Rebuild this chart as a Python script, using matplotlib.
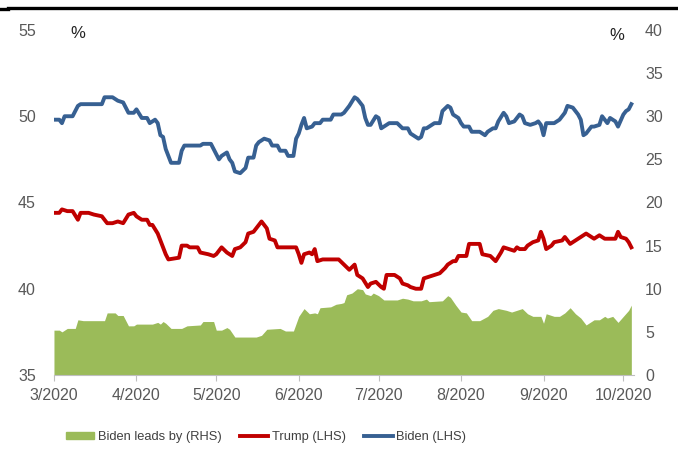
import pandas as pd
import matplotlib.pyplot as plt
from matplotlib.lines import Line2D
from matplotlib.patches import Patch

plt.rcParams["font.family"] = ["Liberation Sans", "DejaVu Sans"]

# days since 1 March 2020
biden_days = [0, 2, 3, 4, 7, 9, 10, 18, 19, 22, 24, 26, 28, 30, 31, 33, 35, 36, 38, 39,
              40, 41, 42, 44, 47, 48, 49, 55, 56, 59, 60, 62, 63, 65, 66, 67, 68, 70, 72, 73,
              75, 76, 77, 79, 81, 82, 84, 85, 87, 88, 90, 91, 92, 93, 94, 95, 97, 98, 100, 101,
              104, 105, 108, 109, 111, 113, 114, 116, 117, 118, 119, 121, 122, 123, 125, 126, 129, 131, 133, 134,
              135, 137, 138, 139, 140, 141, 143, 145, 146, 148, 149, 150, 152, 153, 154, 156, 157, 160, 162, 163,
              165, 166, 167, 169, 170, 171, 173, 175, 176, 177, 179, 181, 182, 183, 184, 185, 188, 190, 192, 193,
              195, 197, 198, 199, 200, 202, 203, 205, 206, 208, 209, 211, 212, 214, 215, 216, 217]
biden = [49.8, 49.8, 49.6, 50.0, 50.0, 50.6, 50.7, 50.7, 51.1, 51.1, 50.9, 50.8, 50.2, 50.2, 50.4, 49.9, 49.9, 49.6, 49.8, 49.6,
         48.9, 48.8, 48.1, 47.3, 47.3, 48.0, 48.3, 48.3, 48.4, 48.4, 48.1, 47.5, 47.7, 47.9, 47.5, 47.3, 46.8, 46.7, 47.0, 47.6,
         47.6, 48.3, 48.5, 48.7, 48.6, 48.3, 48.3, 48.0, 48.0, 47.7, 47.7, 48.7, 49.0, 49.5, 49.9, 49.3, 49.4, 49.6, 49.6, 49.8,
         49.8, 50.1, 50.1, 50.2, 50.6, 51.1, 51.0, 50.6, 49.9, 49.5, 49.5, 50.0, 49.9, 49.3, 49.5, 49.6, 49.6, 49.3, 49.3, 49.0,
         48.9, 48.7, 48.8, 49.3, 49.3, 49.4, 49.6, 49.6, 50.3, 50.6, 50.5, 50.1, 49.9, 49.6, 49.4, 49.4, 49.1, 49.1, 48.9, 49.1,
         49.3, 49.3, 49.7, 50.2, 50.0, 49.6, 49.7, 50.1, 50.0, 49.6, 49.5, 49.6, 49.7, 49.5, 48.9, 49.6, 49.6, 49.8, 50.2, 50.6,
         50.5, 50.1, 49.8, 48.9, 49.0, 49.4, 49.4, 49.5, 50.0, 49.6, 49.9, 49.7, 49.4, 50.1, 50.3, 50.4, 50.7]

trump_days = [0, 2, 3, 5, 7, 9, 10, 13, 15, 18, 20, 22, 24, 26, 28, 30, 31, 33, 35, 36,
              37, 39, 41, 42, 43, 47, 48, 50, 51, 54, 55, 58, 60, 61, 63, 65, 67, 68, 70, 72,
              73, 75, 77, 78, 80, 81, 83, 84, 91, 92, 93, 94, 96, 97, 98, 99, 101, 107, 109, 111,
              113, 114, 116, 118, 119, 121, 123, 124, 125, 128, 130, 131, 133, 134, 136, 138, 139, 141, 143, 145,
              147, 148, 150, 151, 152, 155, 156, 159, 160, 161, 164, 166, 168, 169, 171, 173, 174, 175, 177, 178,
              180, 182, 183, 184, 185, 187, 188, 191, 192, 194, 195, 197, 200, 202, 203, 205, 207, 209, 211, 212,
              213, 215, 216, 217]
trump = [44.4, 44.4, 44.6, 44.5, 44.5, 44.0, 44.4, 44.4, 44.3, 44.2, 43.8, 43.8, 43.9, 43.8, 44.3, 44.4, 44.2, 44.0, 44.0, 43.7,
         43.7, 43.2, 42.4, 42.0, 41.7, 41.8, 42.5, 42.5, 42.4, 42.4, 42.1, 42.0, 41.9, 42.0, 42.4, 42.1, 41.9, 42.3, 42.4, 42.7,
         43.2, 43.3, 43.7, 43.9, 43.5, 42.9, 42.8, 42.4, 42.4, 42.0, 41.5, 42.0, 42.1, 42.0, 42.3, 41.6, 41.7, 41.7, 41.4, 41.1,
         41.4, 40.8, 40.6, 40.1, 40.3, 40.4, 40.1, 40.0, 40.8, 40.8, 40.6, 40.3, 40.2, 40.1, 40.0, 40.0, 40.6, 40.7, 40.8, 40.9,
         41.2, 41.4, 41.6, 41.6, 41.9, 41.9, 42.6, 42.6, 42.6, 42.0, 41.9, 41.6, 42.1, 42.4, 42.3, 42.2, 42.4, 42.3, 42.3, 42.5,
         42.7, 42.8, 43.3, 42.9, 42.3, 42.5, 42.7, 42.8, 43.0, 42.6, 42.7, 42.9, 43.2, 43.0, 42.9, 43.1, 42.9, 42.9, 42.9, 43.3,
         43.0, 42.9, 42.7, 42.4]

lead_days = [0, 2, 3, 5, 8, 9, 11, 14, 15, 19, 20, 23, 24, 26, 28, 30, 31, 37, 39, 40,
             41, 42, 44, 48, 50, 55, 56, 60, 61, 63, 65, 66, 68, 72, 76, 78, 80, 85, 87, 90,
             92, 94, 96, 98, 99, 100, 104, 106, 108, 109, 110, 112, 114, 116, 117, 119, 120, 122, 124, 129,
             131, 133, 135, 138, 140, 141, 146, 148, 149, 151, 153, 155, 157, 160, 163, 165, 167, 170, 172, 175,
             176, 178, 180, 183, 184, 185, 188, 190, 192, 194, 196, 198, 200, 202, 203, 205, 207, 208, 210, 212,
             214, 216, 217]
lead = [5.2, 5.2, 5.0, 5.4, 5.4, 6.4, 6.3, 6.3, 6.3, 6.3, 7.2, 7.2, 6.9, 6.9, 5.7, 5.7, 5.9, 5.9, 6.1, 5.9,
        6.2, 6.0, 5.4, 5.4, 5.7, 5.8, 6.2, 6.2, 5.2, 5.2, 5.5, 5.3, 4.4, 4.4, 4.4, 4.6, 5.3, 5.4, 5.1, 5.1,
        6.8, 7.7, 7.1, 7.2, 7.1, 7.8, 7.9, 8.2, 8.3, 8.4, 9.3, 9.5, 10.0, 9.9, 9.4, 9.2, 9.5, 9.2, 8.7, 8.7,
        8.9, 8.8, 8.6, 8.6, 8.8, 8.5, 8.6, 9.2, 9.0, 8.1, 7.3, 7.2, 6.3, 6.3, 6.8, 7.5, 7.7, 7.5, 7.3, 7.6,
        7.7, 7.1, 6.8, 6.8, 6.0, 7.1, 6.8, 6.8, 7.2, 7.8, 7.1, 6.6, 5.8, 6.2, 6.4, 6.4, 6.8, 6.6, 6.8, 6.1,
        6.8, 7.5, 8.1]

start = pd.Timestamp("2020-03-01")


def to_dates(days):
    return start + pd.to_timedelta(days, unit="D")


grey = "#595959"
fig = plt.figure(figsize=(6.78, 4.62), dpi=100)
ax = fig.add_axes([0.0796, 0.1883, 0.8555, 0.7468])
ax2 = ax.twinx()

# green area on the right-hand scale, drawn underneath the lines
ax.fill_between(to_dates(lead_days), 0, lead, color="#9BBB59", linewidth=0)
ax.set_ylim(0, 40)
ax.set_yticks(range(0, 41, 5))
ax.yaxis.tick_right()

ax2.plot(to_dates(trump_days), trump, color="#C00000", lw=2.8, solid_joinstyle="round")
ax2.plot(to_dates(biden_days), biden, color="#376092", lw=2.8, solid_joinstyle="round")
ax2.set_ylim(35, 55)
ax2.set_yticks(range(35, 56, 5))
ax2.yaxis.tick_left()

months = pd.date_range("2020-03-01", "2020-10-01", freq="MS")
ax.set_xlim(start, start + pd.Timedelta(days=218))
ax.set_xticks(months)
ax.set_xticklabels([f"{m.month}/{m.year}" for m in months])

for a in (ax, ax2):
    for s in a.spines.values():
        s.set_visible(False)
    a.tick_params(axis="y", length=0, labelsize=11.5, labelcolor=grey)
ax.tick_params(axis="y", pad=8)
ax2.tick_params(axis="y", pad=13)
ax.spines["bottom"].set_visible(True)
ax.spines["bottom"].set_color("#bfbfbf")
ax.tick_params(axis="x", length=4, color="#bfbfbf", labelsize=11.5, labelcolor=grey, pad=5)

fig.text(78 / 678, 1 - 33 / 462, "%", fontsize=12, ha="center", va="center", color="#222222")
fig.text(617 / 678, 1 - 35 / 462, "%", fontsize=12, ha="center", va="center", color="#222222")

# heavy rule at the top
fig.add_artist(Line2D([0.012, 1], [1 - 7.5 / 462] * 2, color="black", lw=2.4))
fig.add_artist(Line2D([0, 0.012], [1 - 9 / 462] * 2, color="black", lw=2.4))

handles = [Patch(color="#9BBB59"),
           Line2D([], [], color="#C00000", lw=2.8),
           Line2D([], [], color="#376092", lw=2.8)]
labels = ["Biden leads by (RHS)", "Trump (LHS)", "Biden (LHS)"]
fig.legend(handles, labels, loc="center left", bbox_to_anchor=(54 / 678, 1 - 437 / 462),
           ncol=3, frameon=False, fontsize=9.3, handlelength=2.2, handleheight=0.55,
           handletextpad=0.3, columnspacing=1.4, labelcolor="#404040")

fig.savefig("out.png", dpi=100)
